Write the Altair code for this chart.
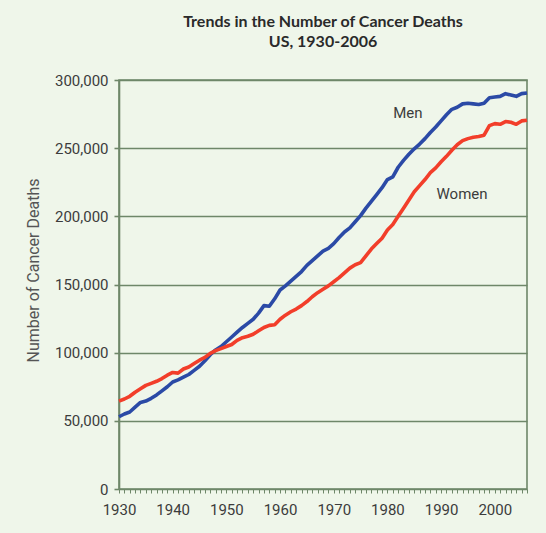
import altair as alt
import pandas as pd

# Annual cancer deaths in the US, by sex
years = list(range(1930, 2007))

men = [
    53000, 55000, 56500, 60000, 63500, 64500, 66500, 69000, 72000, 75000,   # 1930s
    78500, 80000, 82000, 84000, 87000, 90000, 94000, 98500, 102000, 104500,  # 1940s
    108000, 111500, 115000, 118500, 121500, 124500, 129000, 134500, 134000, 139500,  # 1950s
    146000, 149000, 152500, 156000, 159500, 164000, 167500, 171000, 174500, 176500,  # 1960s
    180000, 184500, 188500, 191500, 196000, 200500, 206000, 211000, 216000, 221000,  # 1970s
    227000, 229000, 236000, 241000, 245500, 249500, 253000, 257000, 261500, 265500,  # 1980s
    270000, 274500, 278500, 280000, 282500, 283000, 282500, 282000, 283000, 287000,  # 1990s
    287500, 288000, 290000, 289000, 288000, 290000, 290500,                         # 2000s
]

women = [
    64500, 66000, 68000, 71000, 73500, 76000, 77500, 79000, 81000, 83500,
    85500, 85000, 88000, 89500, 92000, 94500, 96500, 99500, 101500, 103000,
    104500, 106000, 109000, 111000, 112000, 113500, 116000, 118500, 120000, 120500,
    124500, 127500, 130000, 132000, 134500, 137500, 141000, 144000, 146500, 149000,
    152000, 155000, 158500, 162000, 164500, 166000, 171000, 176000, 180000, 184000,
    190000, 194000, 200000, 206000, 212000, 218000, 222500, 227000, 232000, 235500,
    240000, 244000, 248500, 252500, 255500, 257000, 258000, 258500, 259500, 266500,
    268000, 267500, 269500, 269000, 267500, 270000, 270500,
]

series = ["Men", "Women"]
series_colors = ["#2b4aa6", "#f23e2a"]

label_text = ["Men", "Women"]
label_year = [1983.8, 1993.9]
label_value = [275800, 216400]

y_ticks = [0, 50000, 100000, 150000, 200000, 250000, 300000]

grid_color = "#6e8769"
text_color = "#3c3c3c"
axis_font = "Roboto"

df = pd.DataFrame({
    "year": years * 2,
    "deaths": men + women,
    "sex": ["Men"] * len(men) + ["Women"] * len(women),
})
labels = pd.DataFrame({"text": label_text, "year": label_year, "deaths": label_value})

x_scale = alt.Scale(domain=[1930, 2006], nice=False, zero=False)
y_scale = alt.Scale(domain=[0, 300000], nice=False)

x_axis = alt.Axis(
    title=None,
    values=years,
    format="d",
    labelExpr="datum.value % 10 == 0 ? datum.label : ''",
    labelOverlap=False,
    labelFlush=False,
    grid=False,
    domain=False,
    ticks=True,
    tickSize=4,
    tickColor=grid_color,
    tickWidth=1,
    labelPadding=9,
    labelFont=axis_font,
    labelFontSize=15,
    labelColor=text_color,
)

y_axis = alt.Axis(
    title="Number of Cancer Deaths",
    values=y_ticks,
    format=",.0f",
    grid=True,
    gridColor=grid_color,
    gridWidth=1.6,
    gridOpacity=1,
    domain=True,
    domainColor=grid_color,
    domainWidth=1.6,
    ticks=True,
    tickSize=5,
    tickColor=grid_color,
    tickWidth=1.6,
    labelPadding=6,
    labelFont=axis_font,
    labelFontSize=15,
    labelColor=text_color,
    titleFont=axis_font,
    titleFontSize=16,
    titleFontWeight="normal",
    titleColor="#555555",
    titlePadding=13,
    titleY=190,
)

lines = alt.Chart(df).mark_line(strokeWidth=3.6, strokeJoin="round").encode(
    x=alt.X("year:Q", scale=x_scale, axis=x_axis),
    y=alt.Y("deaths:Q", scale=y_scale, axis=y_axis),
    color=alt.Color("sex:N", scale=alt.Scale(domain=series, range=series_colors), legend=None),
)

text = alt.Chart(labels).mark_text(
    font=axis_font, fontSize=15, color=text_color, align="center", baseline="middle"
).encode(
    x=alt.X("year:Q", scale=x_scale, axis=x_axis),
    y=alt.Y("deaths:Q", scale=y_scale, axis=y_axis),
    text="text:N",
)

chart = alt.layer(lines, text).properties(
    width=408,
    height=409,
    padding={"left": 119, "top": 80, "right": 19, "bottom": 44},
    autosize=alt.AutoSizeParams(type="none"),
    background="#eff6ea",
    title=alt.TitleParams(
        ["Trends in the Number of Cancer Deaths", "US, 1930-2006"],
        anchor="middle",
        font="Lato",
        fontSize=16,
        fontWeight="bold",
        color="#2a2a2a",
        lineHeight=20,
        offset=23,
    ),
).configure_view(
    stroke=grid_color,
    strokeWidth=1.6,
)

chart.save("out.html", embed_options={"renderer": "svg", "actions": False})
